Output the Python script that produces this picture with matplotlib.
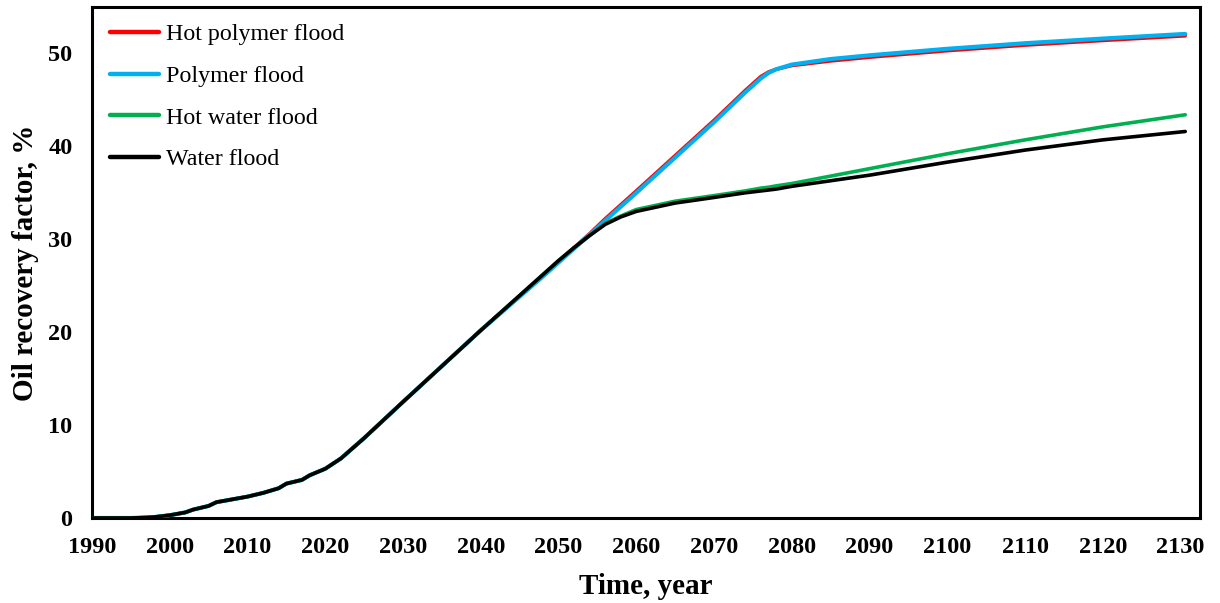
import matplotlib
matplotlib.use("Agg")
import matplotlib.pyplot as plt

# Simulated cumulative oil recovery (%) for four flooding scenarios
years = [1990, 1995, 1997, 1998, 2000, 2002, 2003, 2004, 2005, 2006, 2008,
         2010, 2012, 2014, 2015, 2017, 2018, 2020, 2022, 2025, 2030, 2040,
         2048, 2050, 2052, 2054, 2056, 2058, 2060, 2065, 2070, 2074, 2076,
         2077, 2078, 2080, 2085, 2090, 2100, 2110, 2120, 2130.6]

water_flood = [0, 0, 0.05, 0.1, 0.3, 0.6, 0.9, 1.1, 1.3, 1.7, 2.0,
               2.3, 2.7, 3.2, 3.7, 4.1, 4.6, 5.3, 6.4, 8.6, 12.5, 20.2,
               26.2, 27.7, 29.1, 30.4, 31.6, 32.4, 33.0, 33.9, 34.5, 35.0, 35.2,
               35.3, 35.4, 35.7, 36.3, 36.9, 38.3, 39.6, 40.7, 41.6]

hot_water_flood = [0, 0, 0.05, 0.1, 0.3, 0.6, 0.9, 1.1, 1.3, 1.7, 2.0,
                   2.3, 2.7, 3.2, 3.7, 4.1, 4.6, 5.3, 6.4, 8.6, 12.5, 20.2,
                   26.2, 27.7, 29.1, 30.4, 31.7, 32.5, 33.2, 34.1, 34.7, 35.2, 35.5,
                   35.6, 35.75, 36.0, 36.8, 37.6, 39.2, 40.7, 42.1, 43.4]

polymer_flood = [0, 0, 0.05, 0.1, 0.3, 0.6, 0.9, 1.1, 1.3, 1.7, 2.0,
                 2.3, 2.7, 3.2, 3.7, 4.1, 4.6, 5.3, 6.4, 8.6, 12.5, 20.2,
                 26.0, 27.5, 29.0, 30.5, 32.0, 33.5, 35.0, 38.8, 42.6, 45.8, 47.3,
                 47.9, 48.3, 48.8, 49.4, 49.8, 50.5, 51.1, 51.6, 52.1]

hot_polymer_flood = [0, 0, 0.05, 0.1, 0.3, 0.6, 0.9, 1.1, 1.3, 1.7, 2.0,
                     2.3, 2.7, 3.2, 3.7, 4.1, 4.6, 5.3, 6.4, 8.6, 12.5, 20.2,
                     26.1, 27.6, 29.1, 30.6, 32.2, 33.7, 35.2, 39.0, 42.8, 46.0, 47.5,
                     48.0, 48.3, 48.7, 49.2, 49.6, 50.3, 50.9, 51.4, 51.9]

x_ticks = list(range(1990, 2131, 10))
y_ticks = [0, 10, 20, 30, 40, 50]

plt.rcParams['font.family'] = ['Liberation Serif', 'DejaVu Serif']

fig = plt.figure(figsize=(12.2, 6.03), dpi=100)
ax = fig.add_axes([92 / 1220, (603 - 518) / 603, (1200 - 92) / 1220, (518 - 7) / 603])

lw = 2.6
ax.plot(years, hot_polymer_flood, color='#ff0000', lw=lw, label='Hot polymer flood',
        solid_capstyle='round', zorder=3)
ax.plot(years, polymer_flood, color='#00b0f0', lw=lw + 0.4, label='Polymer flood',
        solid_capstyle='round', zorder=4)
ax.plot(years, hot_water_flood, color='#00b050', lw=lw, label='Hot water flood',
        solid_capstyle='round', zorder=5)
ax.plot(years, water_flood, color='#000000', lw=lw, label='Water flood',
        solid_capstyle='round', zorder=6)

ax.set_xlim(1990, 2132.5)
ax.set_ylim(0, 55)
ax.set_xticks(x_ticks)
ax.set_yticks(y_ticks)
ax.tick_params(length=0, labelsize=17.5, pad=14)
for lab in ax.get_xticklabels() + ax.get_yticklabels():
    lab.set_fontweight('bold')

for sp in ax.spines.values():
    sp.set_linewidth(2.2)
    sp.set_color('black')

ax.set_xlabel('Time, year', fontsize=21, fontweight='bold', labelpad=10.4)
ax.set_ylabel('Oil recovery factor, %', fontsize=21, fontweight='bold', labelpad=6.5)

leg = ax.legend(loc='upper left', frameon=False, fontsize=17.3, handlelength=2.05,
                handletextpad=0.27, labelspacing=0.83, borderaxespad=0.28,
                bbox_to_anchor=(0.0015, 1.0))
for line in leg.get_lines():
    line.set_linewidth(3.2)

fig.savefig('out.png', dpi=100)
